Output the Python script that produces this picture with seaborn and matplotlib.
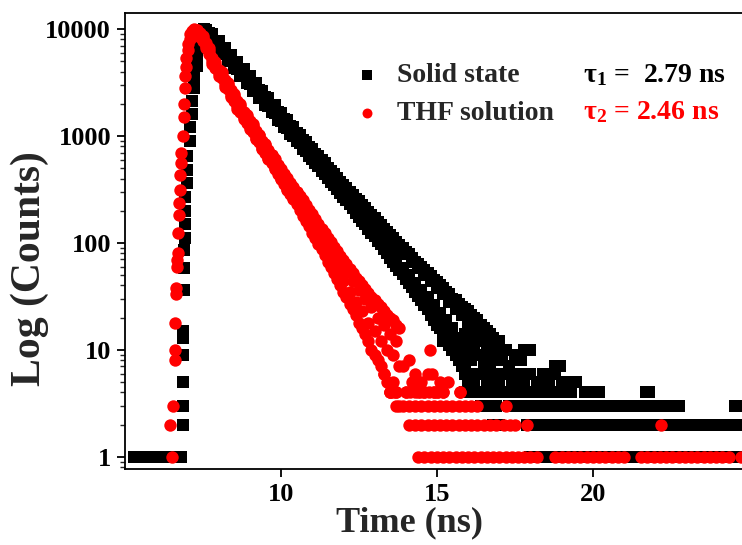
import numpy as np
import pandas as pd
import matplotlib
matplotlib.use('Agg')
import matplotlib.pyplot as plt
import seaborn as sns
from matplotlib.ticker import LogLocator, NullFormatter, NullLocator, FuncFormatter

# ---- data (time in ns, counts) ----
# Solid state (black squares)
black_rise_t = [5.3, 5.4, 5.5, 5.6, 5.7, 5.8, 6.2, 6.3, 6.4, 6.5, 6.6, 6.7, 6.8,
                6.85, 6.85, 6.85, 6.87, 6.87, 6.87, 6.9, 6.9, 6.9, 6.93, 6.93, 6.93, 6.93,
                7.0, 7.0, 7.0, 7.08, 7.08, 7.14, 7.14, 7.22, 7.22, 7.3, 7.3, 7.36, 7.36,
                7.42, 7.42, 7.48, 7.54]
black_rise_counts = [1, 1, 1, 1, 1, 1, 1, 1, 1, 1, 1, 1, 1,
                     2, 3, 5, 9, 13, 15, 36, 58, 86, 110, 150, 200, 270,
                     360, 480, 650, 900, 1200, 1600, 2100, 2800, 3600, 4500, 5500, 6600, 7600,
                     8500, 9300, 9800, 10000]

black_decay_t = [7.6, 7.7, 7.8, 7.9, 8.0, 8.1, 8.2, 8.3, 8.4, 8.5, 8.6, 8.7, 8.8, 8.9,
                 9.0, 9.1, 9.2, 9.3, 9.4, 9.5, 9.6, 9.7, 9.8, 9.9,
                 10.0, 10.1, 10.2, 10.3, 10.4, 10.5, 10.6, 10.7, 10.8, 10.9,
                 11.0, 11.1, 11.2, 11.3, 11.4, 11.5, 11.6, 11.7, 11.8, 11.9,
                 12.0, 12.1, 12.2, 12.3, 12.4, 12.5, 12.6, 12.7, 12.8, 12.9,
                 13.0, 13.1, 13.2, 13.3, 13.4, 13.5, 13.6, 13.7, 13.8, 13.9,
                 14.0, 14.1, 14.2, 14.3, 14.4, 14.5, 14.6, 14.7, 14.8, 14.9,
                 15.0, 15.1, 15.2, 15.3, 15.4, 15.5, 15.6, 15.7, 15.8, 15.9,
                 16.0, 16.1, 16.2, 16.3, 16.4, 16.5, 16.6, 16.7, 16.8, 16.9, 17.0]
# middle of the band, then its upper and lower edges
black_decay_counts = [9800, 8300, 9000, 6900, 7800, 5800, 6700, 5000, 5700, 4300, 4900, 3650, 4200, 3100,
                      3600, 2650, 3100, 2280, 2650, 1950, 2260, 1660, 1930, 1420,
                      1650, 1210, 1410, 1040, 1210, 890, 1030, 760, 885, 650,
                      760, 555, 650, 475, 555, 405, 475, 350, 405, 298,
                      350, 252, 300, 215, 258, 185, 222, 158, 190, 134,
                      163, 114, 140, 96, 120, 83, 104, 70, 90, 58,
                      78, 50, 68, 42, 58, 36, 50, 31, 44, 26,
                      38, 22, 33, 19, 28, 16, 24, 13, 21, 11,
                      18, 10, 15, 9, 13, 7, 11, 6, 10, 6, 8]
black_decay_hi = [9830, 9100, 8420, 7800, 7220, 6690, 6190, 5730, 5300, 4920, 4550, 4220, 3910, 3620,
                  3350, 3110, 2880, 2670, 2470, 2290, 2120, 1960, 1820, 1690,
                  1560, 1450, 1340, 1250, 1160, 1070, 995, 920, 855, 795,
                  735, 685, 635, 590, 545, 505, 470, 440, 405, 375,
                  350, 325, 300, 280, 260, 245, 225, 210, 195, 183,
                  170, 157, 147, 136, 127, 118, 111, 103, 96, 89,
                  83, 78, 73, 67, 64, 59, 56, 52, 49, 45,
                  43, 40, 38, 35, 33, 30, 29, 27, 25, 24,
                  23, 21, 20, 19, 17, 16, 15, 14, 13, 12, 12]
black_decay_lo = [9380, 8660, 8000, 7400, 6840, 6310, 5830, 5390, 4980, 4600, 4250, 3920, 3620, 3340,
                  3090, 2850, 2640, 2430, 2250, 2070, 1920, 1770, 1630, 1500,
                  1390, 1280, 1180, 1090, 1000, 925, 855, 790, 725, 670,
                  615, 570, 525, 480, 445, 410, 375, 345, 320, 295,
                  270, 250, 230, 210, 190, 175, 160, 150, 135, 125,
                  115, 105, 97, 88, 81, 73, 67, 61, 56, 51,
                  46, 42, 39, 35, 32, 29, 26, 24, 21, 19,
                  17, 16, 14, 13, 11, 10, 9, 8, 7, 6,
                  5, 5, 4, 4, 3, 3, 3, 3, 2, 2, 2]

black_tail_t = [15.2, 15.4, 15.6, 15.8, 16.0, 16.2, 16.4, 16.6, 16.8, 17.0, 17.2, 17.8, 18.0,
                15.7, 15.9, 16.1, 16.3, 16.5, 16.7, 16.9, 17.1, 17.3, 17.5, 17.7, 17.85, 18.8, 18.95,
                15.5, 15.9, 16.3, 16.7, 17.1, 17.5]
black_tail_counts = [12, 11, 12, 10, 11, 10, 12, 10, 11, 10, 10, 10, 10,
                     8, 7, 8, 6, 8, 7, 6, 8, 7, 6, 8, 6, 7, 7,
                     15, 14, 13, 9, 9, 9]

# times at which the solid-state counts sit on the low integer levels
black_floor = {
    6: [16.4, 16.8, 17.2, 17.6, 18.0, 18.4, 18.8],
    5: [16.2, 16.6, 17.0, 17.4, 17.8, 18.2, 18.6, 19.0, 19.3, 19.45],
    4: [15.9, 16.1, 16.3, 16.5, 16.7, 16.9, 17.1, 17.3, 17.5, 17.7, 17.9, 18.1, 18.3, 18.5,
        18.7, 18.9, 19.1, 19.3, 19.75, 19.85, 20.1, 20.2, 21.7, 21.8],
    3: [16.5, 16.7, 16.9, 17.3, 17.5, 17.7, 17.9, 18.1, 18.3, 18.5, 18.7, 18.9, 19.1, 19.3,
        19.5, 19.7, 19.9, 20.1, 20.3, 20.5, 20.7, 20.95, 21.15, 21.35, 21.55, 21.75, 21.95,
        22.15, 22.35, 22.55, 22.75, 24.55, 24.75],
    2: [17.9, 18.1, 18.3, 18.5, 18.7, 18.9, 19.1, 19.3, 19.5, 19.7, 19.9, 20.1, 20.3, 20.5,
        20.7, 20.9, 21.1, 21.3, 21.5, 21.7, 21.9, 22.1, 22.45, 22.65, 22.85, 23.1, 23.3,
        23.5, 23.7, 23.95, 24.15, 24.4, 24.6, 24.85],
    1: [18.0, 18.3, 18.6, 18.9, 19.2, 19.5, 19.8, 20.1, 20.4, 20.7, 21.0, 21.3, 21.6,
        21.9, 22.2, 22.5, 22.8, 23.1, 23.4, 23.7, 24.0, 24.3, 24.6, 24.9],
}

# THF solution (red circles)
red_rise_t = [6.5, 6.44, 6.54, 6.6, 6.6, 6.6, 6.63, 6.63, 6.67, 6.67, 6.7, 6.7, 6.73, 6.73,
              6.76, 6.76, 6.8, 6.8, 6.85, 6.88, 6.88, 6.92, 6.92, 6.97, 6.97, 7.02, 7.02,
              7.08, 7.08, 7.15, 7.22]
red_rise_counts = [1, 2, 3, 8, 10, 18, 33, 38, 59, 69, 80, 124, 183, 237,
                   310, 430, 560, 690, 1000, 1500, 2000, 2800, 3600, 4400, 5300, 6300, 7200,
                   8100, 8900, 9500, 10000]

red_decay_t = [7.3, 7.4, 7.5, 7.6, 7.7, 7.8, 7.9, 8.0, 8.1, 8.2, 8.3, 8.4, 8.5, 8.6, 8.7,
               8.8, 8.9, 9.0, 9.1, 9.2, 9.3, 9.4, 9.5, 9.6, 9.7, 9.8, 9.9,
               10.0, 10.1, 10.2, 10.3, 10.4, 10.5, 10.6, 10.7, 10.8, 10.9,
               11.0, 11.1, 11.2, 11.3, 11.4, 11.5, 11.6, 11.7, 11.8, 11.9,
               12.0, 12.1, 12.2, 12.3, 12.4, 12.5, 12.6, 12.7, 12.8, 12.9,
               13.0, 13.1, 13.2, 13.3, 13.4, 13.5, 13.6, 13.7, 13.8]
red_decay_counts = [9700, 8500, 8600, 6600, 6600, 4700, 4950, 3600, 3950, 2880, 3130, 2300, 2480, 1800, 1970,
                    1430, 1560, 1170, 1280, 940, 1030, 760, 840, 610, 670, 500, 540,
                    400, 445, 320, 365, 265, 300, 215, 240, 172, 195,
                    138, 158, 108, 127, 86, 102, 69, 83, 55, 67,
                    44, 54, 35, 44, 28, 36, 23, 30, 18, 25,
                    15, 20, 12, 17, 10, 14, 9, 12, 7]
red_decay_hi = [9830, 9120, 8210, 7400, 6180, 5370, 4650, 4150, 3740, 3330, 2970, 2670, 2360, 2100, 1890,
                1680, 1510, 1380, 1240, 1110, 1010, 905, 825, 740, 665, 605, 540,
                495, 445, 405, 365, 335, 300, 275, 250, 225, 205,
                185, 166, 150, 135, 123, 111, 101, 92, 84, 76,
                69, 63, 57, 52, 47, 44, 40, 37, 34, 31,
                29, 27, 25, 23, 21, 20, 19, 17, 16]
red_decay_lo = [9380, 8680, 7790, 7000, 5820, 5030, 4350, 3850, 3460, 3070, 2730, 2430, 2140, 1900, 1690,
                1500, 1330, 1220, 1080, 965, 870, 775, 695, 620, 555, 495, 440,
                395, 355, 315, 285, 255, 230, 205, 180, 160, 145,
                125, 112, 98, 87, 77, 67, 60, 52, 46, 40,
                35, 31, 27, 24, 21, 18, 16, 14, 12, 10,
                9, 8, 7, 6, 5, 4, 4, 3, 3]

red_tail_t = [13.3, 13.5, 13.6, 13.7, 13.9, 14.0, 14.1, 14.2, 14.3, 14.4, 14.5, 14.6, 14.7,
              14.78, 14.84, 14.9, 15.0, 15.1, 15.2, 15.35, 15.74]
red_tail_counts = [6, 4, 5, 4, 7, 4, 8, 5, 6, 4, 5, 4, 6,
                   10, 6, 4, 4, 5, 4, 5, 4]

red_floor = {
    4: [13.5, 13.7, 14.0, 14.15, 14.3, 14.45, 14.6, 14.75, 14.9, 15.05, 15.2, 15.74],
    3: [13.9, 14.1, 14.3, 14.5, 14.7, 14.9, 15.1, 15.3, 15.5, 15.7, 15.9, 16.1, 16.3, 17.2],
    2: [14.1, 14.3, 14.5, 14.7, 14.9, 15.1, 15.3, 15.5, 15.7, 15.9, 16.1, 16.3, 16.5, 16.7,
        16.9, 17.15, 17.35, 17.5, 17.9, 22.2],
    1: [14.4, 14.6, 14.8, 15.0, 15.2, 15.4, 15.6, 15.8, 16.0, 16.2, 16.4, 16.6, 16.8, 17.0,
        17.2, 17.4, 17.6, 17.8, 18.0, 18.2, 18.8, 19.0, 19.2, 19.4, 19.6, 19.8, 20.0,
        20.2, 20.4, 20.6, 20.8, 21.0, 21.55, 21.75, 21.95, 22.15, 22.35, 22.55, 22.75,
        22.95, 23.15, 23.35, 23.55, 23.75, 23.95, 24.15, 24.35, 24.75, 24.95],
}


def build(parts, floor):
    t, c = [], []
    for pt, pc in parts:
        t += pt
        c += pc
    for level, times in floor.items():
        t += times
        c += [level] * len(times)
    return pd.DataFrame({'time': t, 'counts': c})


black = build([(black_rise_t, black_rise_counts), (black_decay_t, black_decay_counts),
               (black_decay_t, black_decay_hi), (black_decay_t, black_decay_lo),
               (black_tail_t, black_tail_counts)], black_floor)
red = build([(red_rise_t, red_rise_counts), (red_decay_t, red_decay_counts),
             (red_decay_t, red_decay_hi), (red_decay_t, red_decay_lo),
             (red_tail_t, red_tail_counts)], red_floor)

sns.set_style('ticks')
plt.rcParams['font.family'] = ['Liberation Serif', 'DejaVu Serif']
plt.rcParams['font.weight'] = 'bold'
plt.rcParams['mathtext.fontset'] = 'custom'
plt.rcParams['mathtext.bf'] = 'Liberation Serif:bold'
plt.rcParams['mathtext.rm'] = 'Liberation Serif:bold'
plt.rcParams['mathtext.it'] = 'Liberation Serif:bold'

fig = plt.figure(figsize=(7.42, 5.45), dpi=100)
# axes run past the right edge of the picture, as in the original
ax = fig.add_axes([125 / 742, 76 / 545, 655 / 742, 456 / 545])

sns.scatterplot(data=black, x='time', y='counts', marker='s', s=72, color='black',
                linewidth=0, ax=ax, label='Solid state', zorder=2)
sns.scatterplot(data=red, x='time', y='counts', marker='o', s=80, color='#ff0000',
                linewidth=0, ax=ax, label='THF solution', zorder=3)

ax.set_yscale('log')
ax.set_xlim(5, 26)
ax.set_ylim(0.77, 14100)

ax.set_xticks([10, 15, 20])
ax.xaxis.set_minor_locator(NullLocator())
ax.set_yticks([1, 10, 100, 1000, 10000])
ax.yaxis.set_major_formatter(FuncFormatter(lambda v, p: f'{int(round(v))}'))
ax.yaxis.set_minor_locator(LogLocator(base=10, subs=np.arange(2, 10)))
ax.yaxis.set_minor_formatter(NullFormatter())

ax.tick_params(axis='both', which='major', direction='out', length=6, width=1.3,
               labelsize=19, pad=4, colors='black')
ax.tick_params(axis='y', which='minor', direction='out', length=3.5, width=1.0)
for sp in ax.spines.values():
    sp.set_linewidth(1.3)
    sp.set_color('black')

ax.set_xlabel('Time (ns)', fontsize=26, fontweight='bold')
ax.xaxis.set_label_coords(0.435, -0.118)
ax.xaxis.label.set_va('center')
ax.set_ylabel('Log (Counts)', fontsize=30, fontweight='bold')
ax.yaxis.set_label_coords(-0.145, 0.44)
ax.yaxis.label.set_va('center')

leg = ax.legend(loc='upper left', bbox_to_anchor=(0.348, 0.891), frameon=False,
                prop={'size': 20, 'weight': 'bold'}, handlelength=1.0, handletextpad=0.6,
                labelspacing=0.44, borderpad=0, borderaxespad=0, markerscale=0.8)

ax.text(0.699, 0.864, r'$\mathbf{\tau_1}$ =  2.79 ns', transform=ax.transAxes,
        fontsize=20, color='black', ha='left', va='center')
ax.text(0.699, 0.783, r'$\mathbf{\tau_2}$ = 2.46 ns', transform=ax.transAxes,
        fontsize=20, color='#ff0000', ha='left', va='center')

fig.savefig('out.png', dpi=100)
